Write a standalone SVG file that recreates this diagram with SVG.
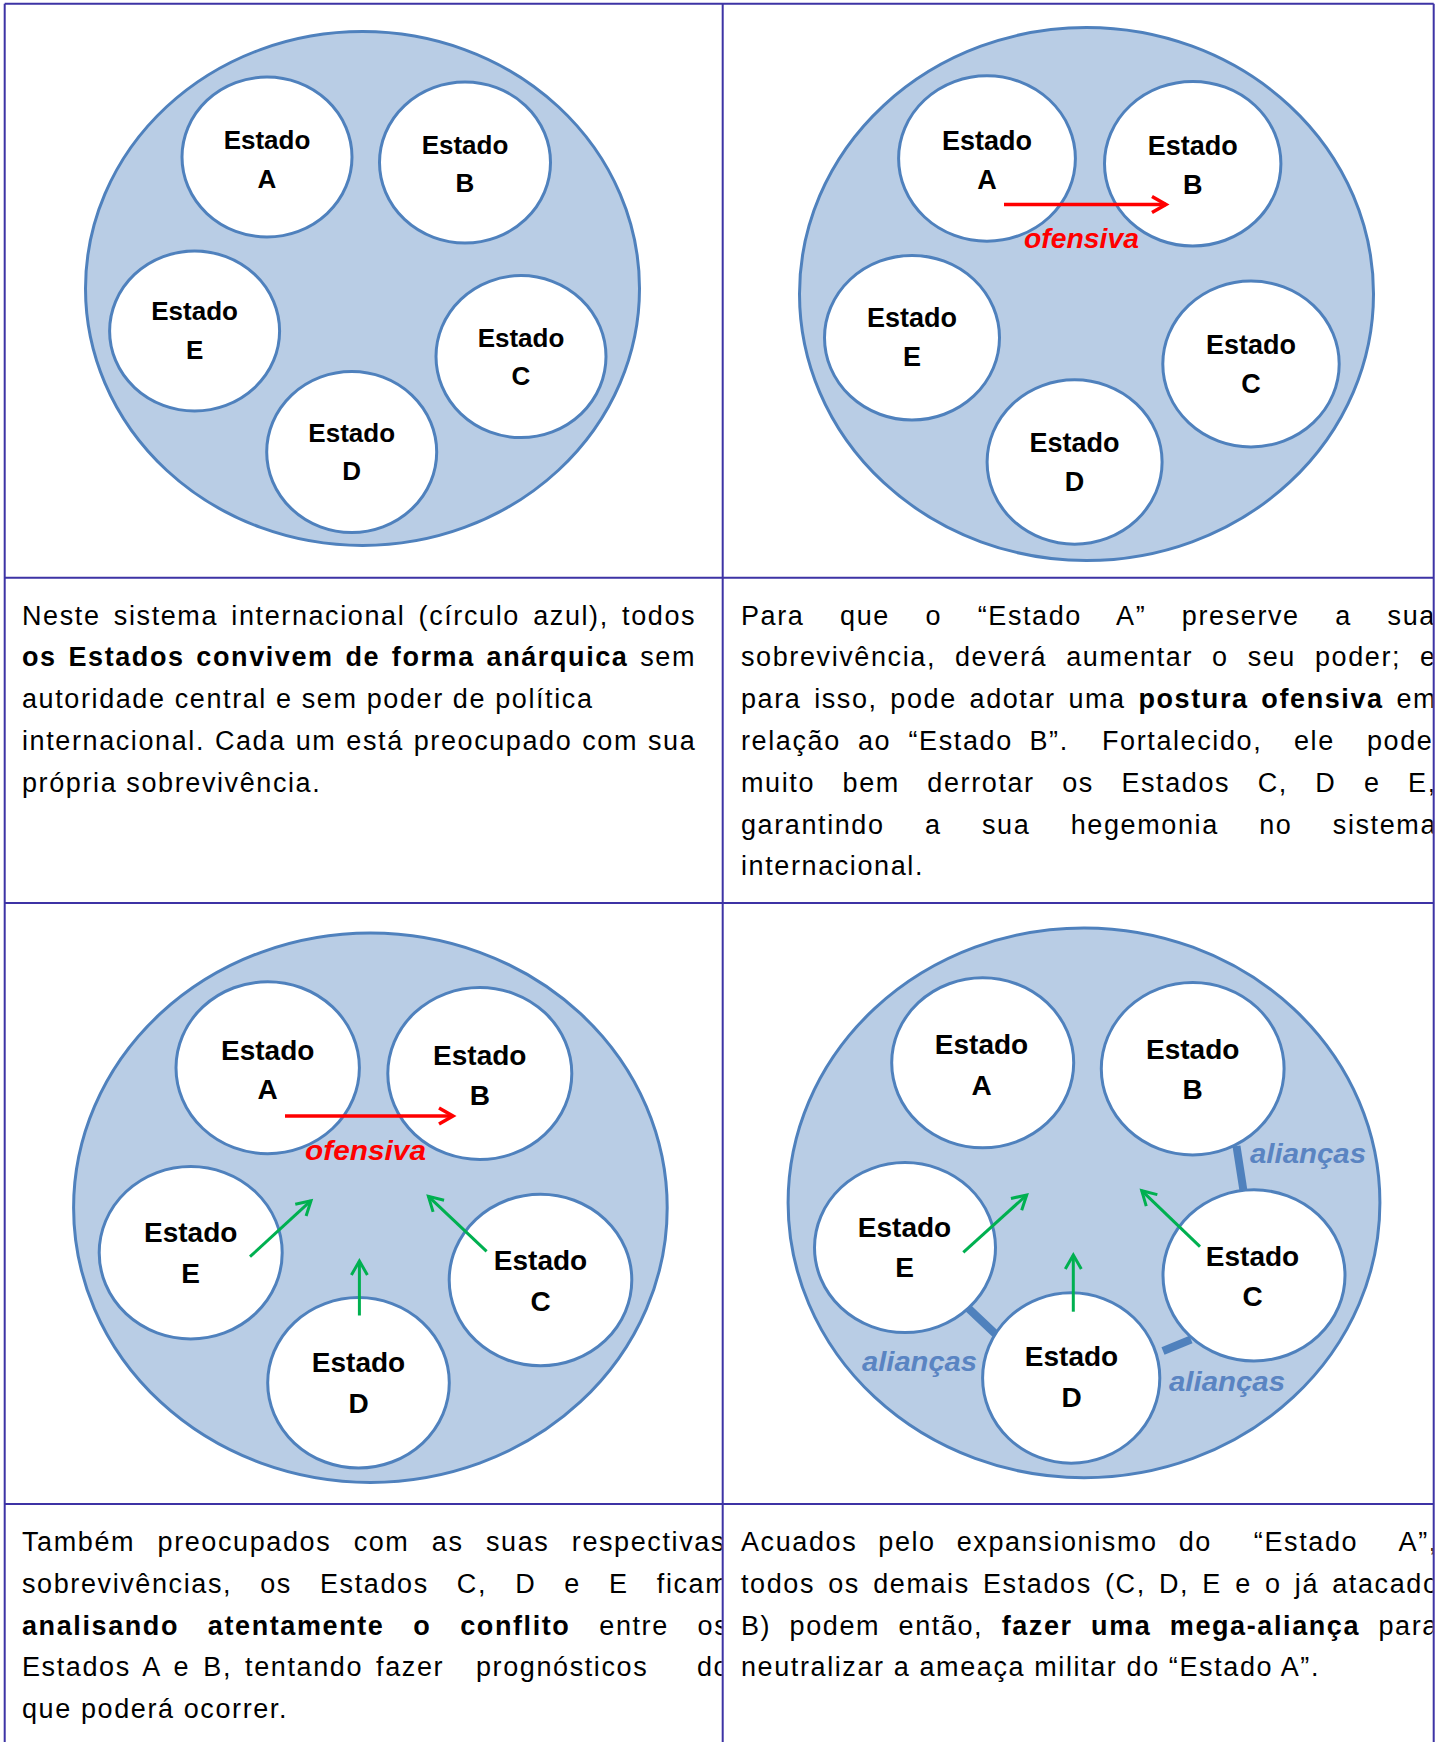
<svg xmlns="http://www.w3.org/2000/svg" width="1442" height="1742" viewBox="0 0 1442 1742">
<defs>
<style>
.sys{fill:#B9CDE5;stroke:#4F81BD;stroke-width:3}
.st{fill:#FFFFFF;stroke:#4F81BD;stroke-width:3}
.lbl{font-family:"Liberation Sans",Arial,sans-serif;font-weight:bold;text-anchor:middle;fill:#000000}
.f26{font-size:26px}.f27{font-size:27px}.f28{font-size:28px}
.red{stroke:#FF0000;stroke-width:3.5;fill:none}
.grn{stroke:#00B050;stroke-width:3;fill:none}
.ali{stroke:#4F81BD;stroke-width:8;fill:none}
.ofs{font-family:"Liberation Sans",Arial,sans-serif;font-weight:bold;font-style:italic;font-size:28.5px;fill:#FF0000}
.alt{font-family:"Liberation Sans",Arial,sans-serif;font-weight:bold;font-style:italic;font-size:28.5px;fill:#5A84C2}
.body{font-family:"Liberation Sans",Arial,sans-serif;font-size:27px;letter-spacing:1.6px;fill:#000000}
.b{font-weight:bold}
.grid{stroke:#3D33A5;stroke-width:2;fill:none}
</style>
<marker id="arR" markerUnits="userSpaceOnUse" markerWidth="40" markerHeight="40" viewBox="-20 -20 40 40" refX="0" refY="0" orient="auto" overflow="visible">
<path d="M-14,-8 L0,0 L-14,8" fill="none" stroke="#FF0000" stroke-width="3.5" stroke-linejoin="miter"/>
</marker>
<marker id="arG" markerUnits="userSpaceOnUse" markerWidth="40" markerHeight="40" viewBox="-20 -20 40 40" refX="0" refY="0" orient="auto" overflow="visible">
<path d="M-14,-8 L0,0 L-14,8" fill="none" stroke="#00B050" stroke-width="3" stroke-linejoin="miter"/>
</marker>
<clipPath id="c1"><rect x="5.7" y="578.7" width="716" height="323.3"/></clipPath>
<clipPath id="c2"><rect x="723.7" y="578.7" width="709" height="323.3"/></clipPath>
<clipPath id="c3"><rect x="5.7" y="1505" width="716" height="237"/></clipPath>
<clipPath id="c4"><rect x="723.7" y="1505" width="709" height="237"/></clipPath>
</defs>
<rect x="0" y="0" width="1442" height="1742" fill="#FFFFFF"/>

<!-- Panel 1 -->
<g id="p1-system"><ellipse class="sys" cx="362.5" cy="288.5" rx="277" ry="257"/></g>
<g id="p1-A"><ellipse class="st" cx="267" cy="157" rx="85" ry="80"/><text class="lbl f26"><tspan x="267" y="148.7">Estado</tspan><tspan x="267" y="187.5">A</tspan></text></g>
<g id="p1-B"><ellipse class="st" cx="465" cy="162.5" rx="85.5" ry="80.5"/><text class="lbl f26"><tspan x="465" y="153.5">Estado</tspan><tspan x="465" y="191.6">B</tspan></text></g>
<g id="p1-E"><ellipse class="st" cx="194.6" cy="331" rx="85" ry="80"/><text class="lbl f26"><tspan x="194.6" y="320">Estado</tspan><tspan x="194.6" y="358.8">E</tspan></text></g>
<g id="p1-C"><ellipse class="st" cx="521" cy="356.6" rx="85" ry="81"/><text class="lbl f26"><tspan x="521" y="347">Estado</tspan><tspan x="521" y="385.4">C</tspan></text></g>
<g id="p1-D"><ellipse class="st" cx="351.7" cy="452" rx="85" ry="80.5"/><text class="lbl f26"><tspan x="351.7" y="442">Estado</tspan><tspan x="351.7" y="480">D</tspan></text></g>

<!-- Panel 2 -->
<g id="p2-system"><ellipse class="sys" cx="1086.5" cy="294" rx="287" ry="266.5"/></g>
<g id="p2-A"><ellipse class="st" cx="987" cy="158.5" rx="88.4" ry="82.7"/><text class="lbl f27"><tspan x="987" y="149.8">Estado</tspan><tspan x="987" y="189.4">A</tspan></text></g>
<g id="p2-B"><ellipse class="st" cx="1192.7" cy="163.7" rx="88.2" ry="82.3"/><text class="lbl f27"><tspan x="1192.7" y="154.6">Estado</tspan><tspan x="1192.7" y="193.5">B</tspan></text></g>
<g id="p2-E"><ellipse class="st" cx="912" cy="337.7" rx="87.5" ry="82.3"/><text class="lbl f27"><tspan x="912" y="326.6">Estado</tspan><tspan x="912" y="366.2">E</tspan></text></g>
<g id="p2-C"><ellipse class="st" cx="1251" cy="364" rx="88.2" ry="82.9"/><text class="lbl f27"><tspan x="1251" y="354">Estado</tspan><tspan x="1251" y="393.2">C</tspan></text></g>
<g id="p2-D"><ellipse class="st" cx="1074.6" cy="462" rx="87.5" ry="82.2"/><text class="lbl f27"><tspan x="1074.6" y="452">Estado</tspan><tspan x="1074.6" y="491.2">D</tspan></text></g>

<!-- Panel 3 -->
<g id="p3-system"><ellipse class="sys" cx="370.4" cy="1207.7" rx="296.8" ry="274.7"/></g>
<g id="p3-A"><ellipse class="st" cx="267.7" cy="1067.7" rx="91.7" ry="86"/><text class="lbl f28"><tspan x="267.7" y="1059.5">Estado</tspan><tspan x="267.7" y="1099">A</tspan></text></g>
<g id="p3-B"><ellipse class="st" cx="479.8" cy="1073.5" rx="92" ry="86"/><text class="lbl f28"><tspan x="479.8" y="1064.5">Estado</tspan><tspan x="479.8" y="1105">B</tspan></text></g>
<g id="p3-E"><ellipse class="st" cx="190.7" cy="1252.7" rx="91.5" ry="86.2"/><text class="lbl f28"><tspan x="190.7" y="1242">Estado</tspan><tspan x="190.7" y="1283">E</tspan></text></g>
<g id="p3-C"><ellipse class="st" cx="540.5" cy="1280" rx="91.3" ry="85.8"/><text class="lbl f28"><tspan x="540.5" y="1270">Estado</tspan><tspan x="540.5" y="1311">C</tspan></text></g>
<g id="p3-D"><ellipse class="st" cx="358.5" cy="1382.8" rx="90.8" ry="85.2"/><text class="lbl f28"><tspan x="358.5" y="1372">Estado</tspan><tspan x="358.5" y="1412.7">D</tspan></text></g>

<!-- Panel 4 -->
<g id="p4-system"><ellipse class="sys" cx="1084" cy="1202.8" rx="295.9" ry="274.9"/></g>
<g id="connectors-alliances">
<line class="ali" x1="1236.5" y1="1146" x2="1243.5" y2="1191"/>
<line class="ali" x1="968" y1="1308" x2="995.5" y2="1334"/>
<line class="ali" x1="1163" y1="1351" x2="1191" y2="1339.5"/>
</g>
<g id="p4-A"><ellipse class="st" cx="982.7" cy="1062.8" rx="91" ry="85"/><text class="lbl f28"><tspan x="981.5" y="1053.7">Estado</tspan><tspan x="981.5" y="1094.5">A</tspan></text></g>
<g id="p4-B"><ellipse class="st" cx="1192.7" cy="1068.7" rx="91.4" ry="86.2"/><text class="lbl f28"><tspan x="1192.7" y="1058.7">Estado</tspan><tspan x="1192.7" y="1099.2">B</tspan></text></g>
<g id="p4-E"><ellipse class="st" cx="905" cy="1247.6" rx="90.5" ry="85"/><text class="lbl f28"><tspan x="904.5" y="1236.5">Estado</tspan><tspan x="904.5" y="1277.3">E</tspan></text></g>
<g id="p4-C"><ellipse class="st" cx="1254" cy="1275.4" rx="91" ry="85.6"/><text class="lbl f28"><tspan x="1252.5" y="1265.7">Estado</tspan><tspan x="1252.5" y="1305.7">C</tspan></text></g>
<g id="p4-D"><ellipse class="st" cx="1071.2" cy="1378" rx="88.6" ry="85.2"/><text class="lbl f28"><tspan x="1071.5" y="1366">Estado</tspan><tspan x="1071.5" y="1406.9">D</tspan></text></g>

<!-- Connectors -->
<g id="connectors">
<line class="red" x1="1004" y1="204.5" x2="1166" y2="204.5" marker-end="url(#arR)"/>
<line class="red" x1="285" y1="1116" x2="453" y2="1116" marker-end="url(#arR)"/>
<line class="grn" x1="250" y1="1256.7" x2="311" y2="1200.7" marker-end="url(#arG)"/>
<line class="grn" x1="359.4" y1="1315.5" x2="359.4" y2="1261" marker-end="url(#arG)"/>
<line class="grn" x1="486.6" y1="1251.3" x2="428.4" y2="1196.4" marker-end="url(#arG)"/>
<line class="grn" x1="963.3" y1="1252.3" x2="1026.7" y2="1195" marker-end="url(#arG)"/>
<line class="grn" x1="1073.3" y1="1311.7" x2="1073.3" y2="1255" marker-end="url(#arG)"/>
<line class="grn" x1="1200" y1="1246.7" x2="1141.7" y2="1190.7" marker-end="url(#arG)"/>
</g>
<g id="connector-labels">
<text class="ofs" x="1024" y="248" textLength="115" lengthAdjust="spacingAndGlyphs">ofensiva</text>
<text class="ofs" x="305" y="1160" textLength="121" lengthAdjust="spacingAndGlyphs">ofensiva</text>
<text class="alt" x="1250" y="1162.5" textLength="116" lengthAdjust="spacingAndGlyphs">alianças</text>
<text class="alt" x="862" y="1370.5" textLength="115" lengthAdjust="spacingAndGlyphs">alianças</text>
<text class="alt" x="1169" y="1391" textLength="116" lengthAdjust="spacingAndGlyphs">alianças</text>
</g>

<!-- Text panel 1 -->
<g id="text1" class="body" clip-path="url(#c1)">
<text x="22" y="624.5" word-spacing="4.2">Neste sistema internacional (círculo azul), todos</text>
<text x="22" y="666.3" word-spacing="2.6"><tspan class="b">os Estados convivem de forma anárquica</tspan> sem</text>
<text x="22" y="708.1">autoridade central e sem poder de política</text>
<text x="22" y="749.9" word-spacing="0.8">internacional. Cada um está preocupado com sua</text>
<text x="22" y="791.7">própria sobrevivência.</text>
</g>

<!-- Text panel 2 -->
<g id="text2" class="body" clip-path="url(#c2)">
<text x="741" y="624.5" word-spacing="26.5">Para que o “Estado A” preserve a sua</text>
<text x="741" y="666.3" word-spacing="9.9">sobrevivência, deverá aumentar o seu poder; e</text>
<text x="741" y="708.1" word-spacing="3.6">para isso, pode adotar uma <tspan class="b">postura ofensiva</tspan> em</text>
<text y="749.9"><tspan x="741">relação</tspan><tspan x="858">ao</tspan><tspan x="908.5">“Estado</tspan><tspan x="1029.5">B”.</tspan><tspan x="1102">Fortalecido,</tspan><tspan x="1294">ele</tspan><tspan x="1367">pode</tspan></text>
<text x="741" y="791.7" word-spacing="18.4">muito bem derrotar os Estados C, D e E,</text>
<text x="741" y="833.5" word-spacing="31.3">garantindo a sua hegemonia no sistema</text>
<text x="741" y="875.3">internacional.</text>
</g>

<!-- Text panel 3 -->
<g id="text3" class="body" clip-path="url(#c3)">
<text x="22" y="1551" word-spacing="13.3">Também preocupados com as suas respectivas</text>
<text x="22" y="1592.8" word-spacing="19">sobrevivências, os Estados C, D e E ficam</text>
<text x="22" y="1634.6" word-spacing="19.7"><tspan class="b">analisando atentamente o conflito</tspan> entre os</text>
<text y="1676.4"><tspan x="22" word-spacing="4">Estados A e B, tentando fazer</tspan><tspan x="476">prognósticos</tspan><tspan x="697">do</tspan></text>
<text x="22" y="1718.2">que poderá ocorrer.</text>
</g>

<!-- Text panel 4 -->
<g id="text4" class="body" clip-path="url(#c4)">
<text x="741" y="1551" word-spacing="11.9" xml:space="preserve">Acuados pelo expansionismo do  “Estado  A”,</text>
<text x="741" y="1592.8" word-spacing="4.1">todos os demais Estados (C, D, E e o já atacado</text>
<text x="741" y="1634.6" word-spacing="9.3">B) podem então, <tspan class="b">fazer uma mega-aliança</tspan> para</text>
<text x="741" y="1676.4">neutralizar a ameaça militar do “Estado A”.</text>
</g>

<!-- Grid -->
<g id="grid" class="grid">
<path d="M4.7,3.7 H1433.7 M4.7,3.7 V1742 M722.7,3.7 V1742 M1433.7,3.7 V1742 M4.7,577.7 H1433.7 M4.7,903 H1433.7 M4.7,1504 H1433.7"/>
</g>
</svg>
